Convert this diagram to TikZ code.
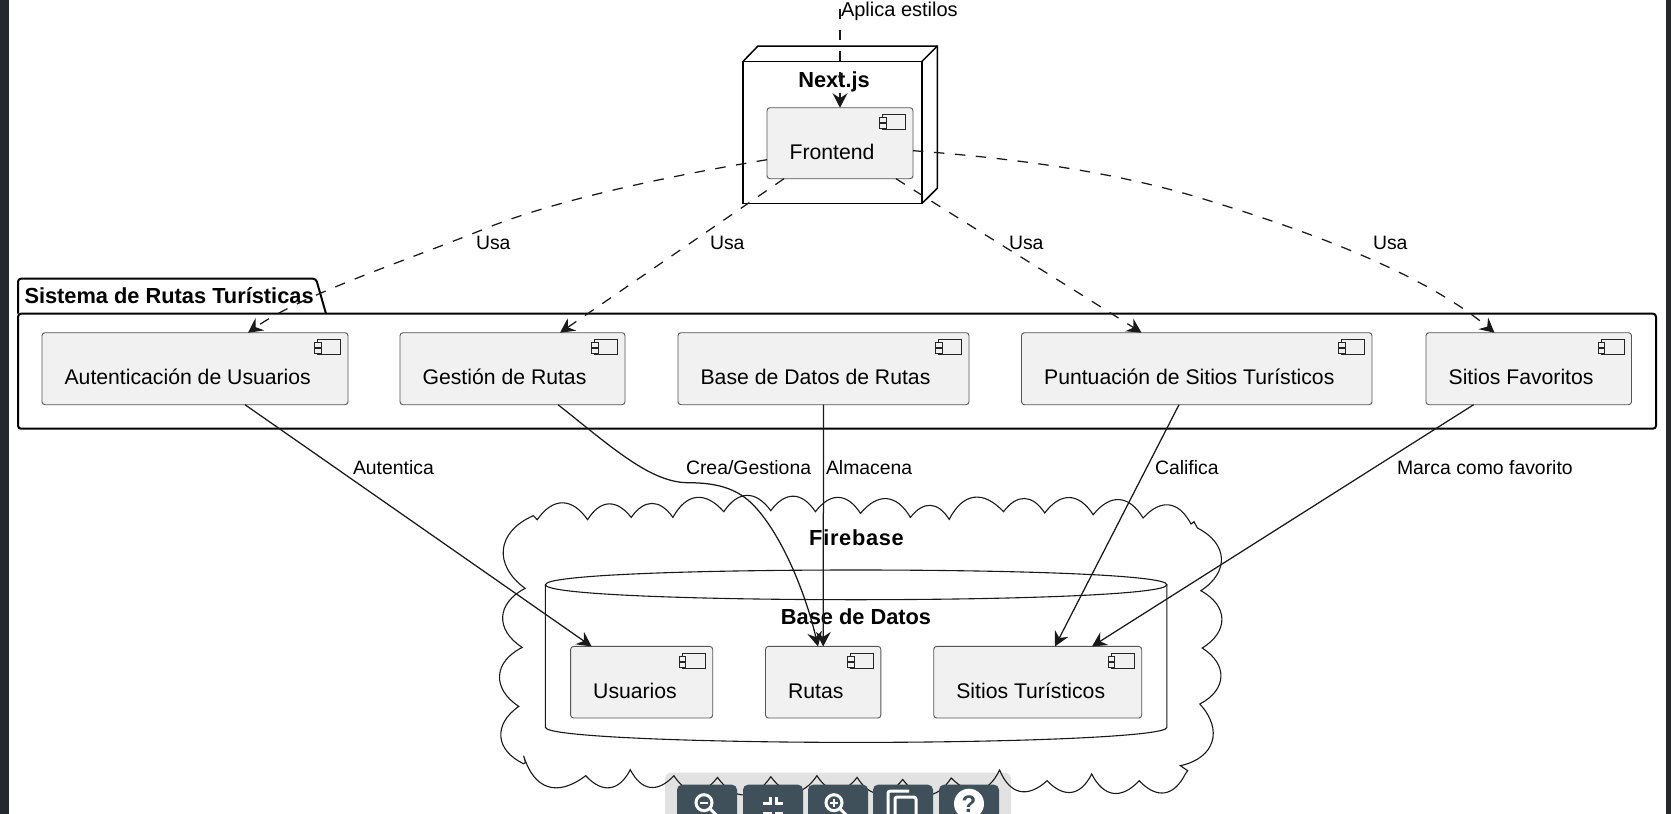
\documentclass[tikz,border=0pt]{standalone}
\usepackage{fontspec}
\setmainfont{Liberation Sans}
\usetikzlibrary{arrows.meta,calc}
\definecolor{strip}{HTML}{24292E}
\definecolor{boxfill}{HTML}{F1F1F1}
\definecolor{boxline}{HTML}{555555}
\definecolor{tbgrey}{HTML}{E2E2E2}
\definecolor{tbbtn}{HTML}{3F505A}
\tikzset{
  x=1pt,y=-1pt,
  compbox/.style={draw=boxline,fill=boxfill,line width=0.9pt,rounded corners=3pt,inner sep=0pt,outer sep=0pt},
  comptext/.style={anchor=base west,inner sep=0pt,outer sep=0pt,font=\fontsize{21.2}{24}\selectfont},
  edgetext/.style={anchor=base west,inner sep=0pt,outer sep=0pt,font=\fontsize{19.4}{22}\selectfont},
  titletext/.style={anchor=base,inner sep=0pt,outer sep=0pt,font=\fontsize{21.8}{24}\selectfont\bfseries},
  frame/.style={draw=black,line width=1.5pt,inner sep=0pt,outer sep=0pt},
  solidedge/.style={draw=black!90,line width=1.25pt,-{Stealth[length=14.5pt,width=15pt,inset=5pt]}},
  dashededge/.style={solidedge,dash pattern=on 10.5pt off 10.5pt},
  cloudline/.style={draw=black!90,line width=1.1pt},
  scal/.style={bend left=55,looseness=1.4},
  sidescal/.style={bend left=60,looseness=1.4},
  icon/.style={draw=black!85,line width=0.8pt},
  tbicon/.style={draw=white,line width=3pt},
}
\newcommand{\compnode}[6]{%
  \node[compbox,minimum width={(#4-#2)*1pt},minimum height={(#5-#3)*1pt}] (#1) at ({(#2+#4)/2},{(#3+#5)/2}) {};
  \node[comptext] (#1-t) at ([xshift=22.6pt,yshift=-52pt]#1.north west) {#6};
  \begin{scope}[shift={(#1.north east)}]
    \draw[icon] (-30.5,7) rectangle (-7.3,22);
    \draw[icon,fill=boxfill] (-33.5,10) rectangle (-27,15);
    \draw[icon,fill=boxfill] (-33.5,16) rectangle (-27,20.5);
  \end{scope}
}
\begin{document}
\begin{tikzpicture}
\useasboundingbox (0,0) rectangle (1671,814);
\clip (0,0) rectangle (1671,814);
\fill[white] (0,0) rectangle (1671,814);
\fill[strip] (0,0) rectangle (9,814);
\fill[strip] (1666,0) rectangle (1671,814);
\begin{scope}[yshift=-0.7pt]
% toolbar background
\fill[tbgrey,rounded corners=6pt] (665,772) rectangle (1011,840);
% cloud
\draw[cloudline] (537.2,519)
  to[scal] (587.6,519)
  to[scal] (631.2,516.7)
  to[scal] (672.9,516.7)
  to[scal] (723.8,511)
  to[scal] (770.8,510)
  to[scal] (815.4,511)
  to[scal] (860.5,512.7)
  to[scal] (910.4,516.7)
  to[scal] (949.2,518.7)
  to[scal] (1003.5,511)
  to[scal] (1044.7,512.3)
  to[scal] (1093.2,514)
  to[scal] (1143.1,517.3)
  to[scal] (1191,523.3)
  -- (1194,521) -- (1197.4,527.3)
  to[sidescal] (1200.8,590)
  to[sidescal] (1202.2,647.3)
  to[sidescal] (1199.8,703.3)
  to[sidescal] (1180.4,765)
  -- (1187.7,770) -- (1185.3,773.3)
  to[scal] (1139.2,780)
  to[scal] (1091.7,773.3)
  to[scal] (1047.1,780)
  to[scal] (999.6,769.3)
  to[scal] (951.2,777.3)
  to[scal] (902.7,778.7)
  to[scal] (857.1,776.7)
  to[scal] (816.9,775)
  to[scal] (770.8,776)
  to[scal] (717.5,776.7)
  to[scal] (673.9,775)
  to[scal] (630.3,769)
  to[scal] (585.7,775)
  to[scal] (523.6,755)
  -- (525.5,762) -- (523.6,763)
  to[sidescal] (518.8,705.7)
  to[sidescal] (522.2,646.7)
  to[sidescal] (525.1,587.7)
  to[sidescal] (533.3,515)
  -- cycle;
% toolbar buttons
\foreach \bx in {677,743,808,873,939}
  \fill[tbbtn,rounded corners=5pt] (\bx,784) rectangle ++(60,60);
\draw[tbicon] (704,802) circle (8);
\draw[tbicon] (709.7,807.7) -- (717,815);
\draw[tbicon,line width=2pt] (700,802) -- (708,802);
\draw[tbicon] (763,803) -- (770,803) -- (770,796);
\draw[tbicon] (783,803) -- (776,803) -- (776,796);
\draw[tbicon] (763,813) -- (770,813) -- (770,820);
\draw[tbicon] (783,813) -- (776,813) -- (776,820);
\draw[tbicon] (834,802) circle (8);
\draw[tbicon] (839.7,807.7) -- (847,815);
\draw[tbicon,line width=2pt] (830,802) -- (838,802) (834,798) -- (834,806);
\draw[tbicon] (888,820) -- (888,792) [rounded corners=2pt] -- (888,790.5) -- (909,790.5);
\draw[tbicon,rounded corners=2pt] (895,820) -- (895,796.5) -- (916,796.5) -- (916,820);
\fill[white] (969,803) circle (15);
\node[inner sep=0pt,text=tbbtn,font=\fontsize{24}{26}\selectfont\bfseries] (help) at (969,803) {?};
% cylinder
\draw[cloudline] (545.4,584) -- (545.4,726.7)
  .. controls (545.4,736) and (700,741.7) .. (856,741.7)
  .. controls (1012,741.7) and (1166.9,736) .. (1166.9,726.7) -- (1166.9,584);
\draw[cloudline] (545.4,584) .. controls (545.4,574) and (700,569.3) .. (856,569.3)
  .. controls (1012,569.3) and (1166.9,574) .. (1166.9,584)
  .. controls (1166.9,594) and (1012,599) .. (856,599)
  .. controls (700,599) and (545.4,594) .. cycle;
\node[titletext,font=\fontsize{21.8}{24}\selectfont\bfseries\addfontfeature{LetterSpace=3.2}] (firebase) at (856.5,545) {Firebase};
\node[titletext] (basedatostitle) at (856,624) {Base de Datos};
% node next.js
\draw[frame] (743,60.7) -- (758,45.3) -- (937.3,45.3) -- (937.3,187.5) -- (922,202.7);
\draw[frame] (922,60.7) -- (937.3,45.3);
\node[frame,minimum width=179pt,minimum height=142pt] (nextjs) at (832.5,131.7) {};
\node[titletext] (nextjstitle) at (834,87) {Next.js};
\compnode{front}{767}{107}{913}{178}{Frontend}
% package
\draw[frame,line width=2pt,rounded corners=3pt] (18,313) -- (18,278) -- (316,278) -- (326,313);
\node[frame,line width=2pt,rounded corners=3pt,minimum width=1638pt,minimum height=115pt] (pkg) at (837,370.5) {};
\node[titletext,anchor=base west] (pkgtitle) at (24.5,302.7) {Sistema de Rutas Turísticas};
\compnode{auth}{42}{332}{348}{404}{Autenticación de Usuarios}
\compnode{gestion}{400}{332}{625}{404}{Gestión de Rutas}
\compnode{basedb}{678}{332}{969}{404}{Base de Datos de Rutas}
\compnode{punt}{1021.5}{332}{1372}{404}{Puntuación de Sitios Turísticos}
\compnode{fav}{1426}{332}{1631.5}{404}{Sitios Favoritos}
\compnode{usuarios}{570.6}{645.7}{712.7}{717.3}{Usuarios}
\compnode{rutas}{765.5}{645.7}{880.9}{717.3}{Rutas}
\compnode{sitios}{933.7}{645.7}{1141.7}{717.3}{Sitios Turísticos}
% labels
\coordinate (stylesrc) at (840,-13);
\node[edgetext,font=\fontsize{20}{22}\selectfont] (l0) at (841,15.7) {Aplica estilos};
\node[edgetext] (l1) at (476,249) {Usa};
\node[edgetext] (l2) at (710,249) {Usa};
\node[edgetext] (l3) at (1009,249) {Usa};
\node[edgetext] (l4) at (1373,249) {Usa};
\node[edgetext] (l5) at (353,473.3) {Autentica};
\node[edgetext] (l6) at (686,473.3) {Crea/Gestiona};
\node[edgetext] (l7) at (826,473.3) {Almacena};
\node[edgetext] (l8) at (1155,473.3) {Califica};
\node[edgetext] (l9) at (1397,473.3) {Marca como favorito};
% dashed edges
\draw[dashededge] (stylesrc) -- (front.north);
\draw[dashededge] ([yshift=-16.5pt]front.west) .. controls (640,180) and (540,205) .. (480,230)
  .. controls (400,262) and (300,295) .. ([xshift=206pt]auth.north west);
\draw[dashededge] ([xshift=17pt]front.south west) -- ([xshift=160pt]gestion.north west);
\draw[dashededge] ([xshift=129pt]front.south west) .. controls (960,219) and (1060,280) .. ([xshift=120pt]punt.north west);
\draw[dashededge] ([yshift=-7.5pt]front.east) .. controls (1020,158) and (1120,172) .. (1209,200)
  .. controls (1300,228) and (1420,270) .. ([xshift=68.5pt]fav.north west);
% solid edges
\draw[solidedge] ([xshift=203pt]auth.south west) -- ([xshift=21pt]usuarios.north west);
\draw[solidedge] ([xshift=158pt]gestion.south west) .. controls (610,445) and (650,482) .. (688,482)
  .. controls (715,482) and (735,487) .. (751,502)
  .. controls (780,530) and (805,590) .. ([xshift=52.5pt]rutas.north west);
\draw[solidedge] (basedb.south) -- (rutas.north);
\draw[solidedge] ([xshift=157.5pt]punt.south west) -- ([xshift=121.3pt]sitios.north west);
\draw[solidedge] ([xshift=47.6pt]fav.south west) -- ([xshift=158.3pt]sitios.north west);
\end{scope}
\end{tikzpicture}
\end{document}
